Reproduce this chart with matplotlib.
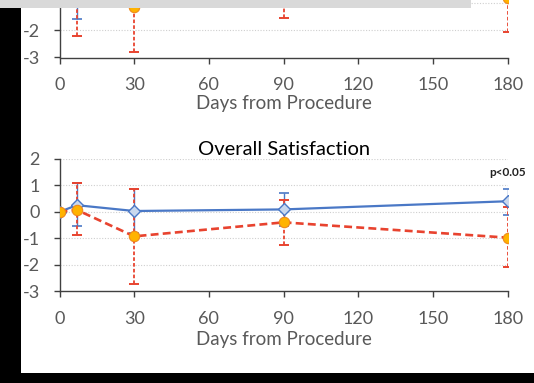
import matplotlib
matplotlib.use('Agg')
import matplotlib.pyplot as plt
from matplotlib.patches import Rectangle
import numpy as np

# ---- data ----
days = [0, 7, 30, 90, 180]
xticks = [0, 30, 60, 90, 120, 150, 180]
yticks = [-3, -2, -1, 0, 1, 2]

# upper (cropped) panel
top_blue_mean = [0, -0.30, -0.25, -0.20, -0.10]
top_blue_lo = [0, -1.60, -0.95, -0.90, -0.80]
top_blue_hi = [0, 1.00, 0.45, 0.50, 0.60]
top_red_mean = [0, -0.50, -1.15, -0.40, -0.82]
top_red_lo = [0, -2.20, -2.80, -1.55, -2.05]
top_red_hi = [0, 1.20, 0.50, 0.75, 0.40]

# Overall Satisfaction panel
sat_blue_mean = [0, 0.25, 0.03, 0.09, 0.40]
sat_blue_lo = [0, -0.55, -0.80, -0.55, -0.12]
sat_blue_hi = [0, 1.10, 0.85, 0.72, 0.88]
sat_red_mean = [0, 0.07, -0.93, -0.40, -0.98]
sat_red_lo = [0, -0.88, -2.74, -1.24, -2.08]
sat_red_hi = [0, 1.10, 0.88, 0.44, 0.20]

title = 'Overall Satisfaction'
xlabel = 'Days from Procedure'
annot = 'p<0.05'

plt.rcParams['font.family'] = ['Lato', 'DejaVu Sans']

BLUE = '#4a78c6'
BLUE_FACE = '#c9d8ee'
RED = '#e8432f'
ORANGE = '#ffb300'
ORANGE_EDGE = '#f08a1a'
GRAY = '#595959'

W, H = 534, 383
fig = plt.figure(figsize=(W / 100, H / 100), dpi=100)
fig.patch.set_facecolor('black')
fig.add_artist(Rectangle((21 / W, (H - 373.3) / H), 1, 1, transform=fig.transFigure,
                         facecolor='white', edgecolor='none', zorder=-10))
fig.add_artist(Rectangle((0, (H - 7.5) / H), 471 / W, 1, transform=fig.transFigure,
                         facecolor='#d9d9d9', edgecolor='none', zorder=10))


def panel(ax, bm, blo, bhi, rm, rlo, rhi, shown_yticks):
    ax.set_facecolor('none')
    bm, blo, bhi = map(np.array, (bm, blo, bhi))
    rm, rlo, rhi = map(np.array, (rm, rlo, rhi))
    ax.errorbar(days, bm, yerr=[bm - blo, bhi - bm], fmt='none', ecolor=BLUE,
                elinewidth=1.0, capsize=3.5, capthick=1.2, zorder=2)
    er = ax.errorbar(days, rm, yerr=[rm - rlo, rhi - rm], fmt='none', ecolor=RED,
                     elinewidth=1.3, capsize=3.5, capthick=1.4, zorder=3)
    er[2][0].set_linestyle((0, (2, 1.2)))
    ax.plot(days, bm, color=BLUE, lw=1.6, marker='D', ms=6, mfc=BLUE_FACE,
            mec=BLUE, mew=1.0, zorder=4)
    ax.plot(days, rm, color=RED, lw=1.9, ls=(0, (3, 1.6)), marker='o', ms=7.5,
            mfc=ORANGE, mec=ORANGE_EDGE, mew=0.8, zorder=5)
    ax.set_xlim(0, 180)
    ax.set_ylim(-3, 2)
    ax.set_xticks(xticks)
    ax.set_yticks(yticks)
    ax.set_xticklabels([str(t) for t in xticks])
    ax.set_yticklabels([str(t) if t in shown_yticks else '' for t in yticks])
    for y in yticks[1:]:
        ax.axhline(y, color='#cfcfcf', lw=0.8, ls=(0, (1, 1.5)), zorder=1)
    for s in ('top', 'right'):
        ax.spines[s].set_visible(False)
    for s in ('left', 'bottom'):
        ax.spines[s].set_color('#404040')
        ax.spines[s].set_linewidth(1.0)
    ax.tick_params(axis='both', direction='out', length=4.5, width=1.0,
                   color='#404040', labelcolor=GRAY, labelsize=13)
    ax.tick_params(axis='y', pad=9.5)
    ax.tick_params(axis='x', pad=10)
    ax.set_xlabel(xlabel, fontsize=13.5, color=GRAY, labelpad=2.5)


x0 = 59.5 / W
wid = (507.7 - 59.5) / W

# upper cropped panel: -3 at y=57.5 px, 27.2 px / unit
ax1 = fig.add_axes([x0, (H - 57.5) / H, wid, 136 / H])
panel(ax1, top_blue_mean, top_blue_lo, top_blue_hi, top_red_mean, top_red_lo, top_red_hi,
      [-3, -2])
ax1.tick_params(axis='x', pad=9.5)
ax1.xaxis.labelpad = 1.5

# lower panel: -3 at y=291 px, 2 at y=159 px
ax2 = fig.add_axes([x0, (H - 291) / H, wid, 132 / H])
panel(ax2, sat_blue_mean, sat_blue_lo, sat_blue_hi, sat_red_mean, sat_red_lo, sat_red_hi,
      yticks)
ax2.set_title(title, fontsize=14.5, color='black', pad=3)
ax2.text(180, 1.5, annot, ha='center', va='center', fontsize=8.5, fontweight='bold',
         color='#222222')

fig.savefig('out.png', dpi=100, facecolor=fig.get_facecolor())
